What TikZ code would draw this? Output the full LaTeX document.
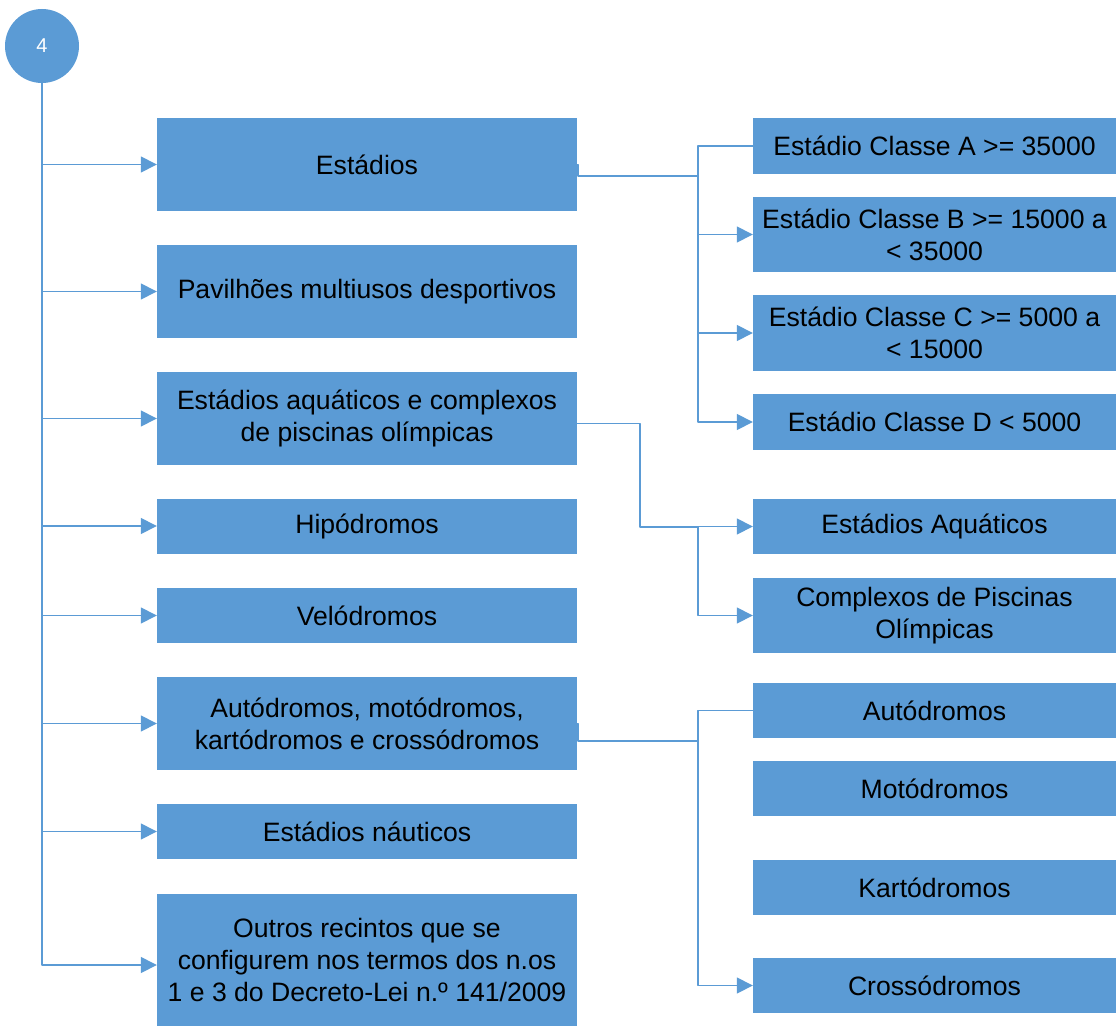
\documentclass[tikz,border=0pt]{standalone}
\usepackage{fontspec}
\setmainfont{Liberation Sans}
\usetikzlibrary{arrows.meta}
\definecolor{azul}{HTML}{5B9BD5}

\begin{document}
\begin{tikzpicture}[x=1pt,y=-1pt,line join=round,>={Triangle[length=16pt,width=16pt]},
		font=\fontsize{26.6}{32}\selectfont,
		caixa/.style={fill=azul,inner sep=0pt,align=center,minimum width=420pt},
		caixad/.style={fill=azul,inner sep=0pt,align=center,minimum width=363pt},
		liga/.style={draw=azul,line width=1.5pt},
		seta/.style={liga,->}]
	\useasboundingbox (0,0) rectangle (1116,1027);
	\node[circle,fill=azul,minimum size=74pt,inner sep=0pt,text=white,font=\fontsize{20}{24}\selectfont] (raiz) at (42,46) {4};
	% coluna da esquerda
	\node[caixa,minimum height=93pt] (est) at (367,164.5) {Estádios};
	\node[caixa,minimum height=93pt] (pav) at (367,291.5) {Pavilhões multiusos desportivos};
	\node[caixa,minimum height=93pt] (aqu) at (367,418.5) {Estádios aquáticos e complexos\\de piscinas olímpicas};
	\node[caixa,minimum height=55pt] (hip) at (367,526) {Hipódromos};
	\node[caixa,minimum height=55pt] (vel) at (367,615.5) {Velódromos};
	\node[caixa,minimum height=93pt] (aut) at (367,723.5) {Autódromos, motódromos,\\kartódromos e crossódromos};
	\node[caixa,minimum height=55pt] (nau) at (367,831.5) {Estádios náuticos};
	\node[caixa,minimum height=132pt] (out) at (367,960) {Outros recintos que se\\configurem nos termos dos n.os\\1 e 3 do Decreto-Lei n.º 141/2009};
	% coluna da direita
	\node[caixad,minimum height=56pt] (ca) at (934.5,146) {Estádio Classe A >= 35000};
	\node[caixad,minimum height=75pt] (cb) at (934.5,234.5) {Estádio Classe B >= 15000 a\\< 35000};
	\node[caixad,minimum height=76pt] (cc) at (934.5,333) {Estádio Classe C >= 5000 a\\< 15000};
	\node[caixad,minimum height=56pt] (cd) at (934.5,422) {Estádio Classe D < 5000};
	\node[caixad,minimum height=55pt] (eaq) at (934.5,526.5) {Estádios Aquáticos};
	\node[caixad,minimum height=75pt] (cpo) at (934.5,615.5) {Complexos de Piscinas\\Olímpicas};
	\node[caixad,minimum height=55pt] (autd) at (934.5,710.5) {Autódromos};
	\node[caixad,minimum height=55pt] (motd) at (934.5,788.5) {Motódromos};
	\node[caixad,minimum height=55pt] (kard) at (934.5,887.5) {Kartódromos};
	\node[caixad,minimum height=55pt] (crod) at (934.5,985.5) {Crossódromos};
	% ligacoes
	\draw[seta] (raiz.south) |- (est.west);
	\draw[seta] (raiz.south) |- (pav.west);
	\draw[seta] (raiz.south) |- (aqu.west);
	\draw[seta] (raiz.south) |- (hip.west);
	\draw[seta] (raiz.south) |- (vel.west);
	\draw[seta] (raiz.south) |- (aut.west);
	\draw[seta] (raiz.south) |- (nau.west);
	\draw[seta] (raiz.south) |- ([yshift=-5pt]out.west);
	\coordinate (j1) at (698,176);
	\draw[liga] (est.east) -- ++(1,0) |- (j1);
	\draw[liga] (j1) |- (ca.west);
	\draw[seta] (j1) |- (cb.west);
	\draw[seta] (j1) |- (cc.west);
	\draw[seta] (j1) |- (cd.west);
	\coordinate (k2) at (640,527);
	\coordinate (j2) at (698,527);
	\draw[liga] ([yshift=-5pt]aqu.east) -| (k2) -- (j2);
	\draw[seta] (j2) |- (eaq.west);
	\draw[seta] (j2) |- (cpo.west);
	\coordinate (j3) at (698,741);
	\draw[liga] (aut.east) -- ++(1,0) |- (j3);
	\draw[liga] (j3) |- (autd.west);
	\draw[seta] (j3) |- (crod.west);
\end{tikzpicture}
\end{document}
